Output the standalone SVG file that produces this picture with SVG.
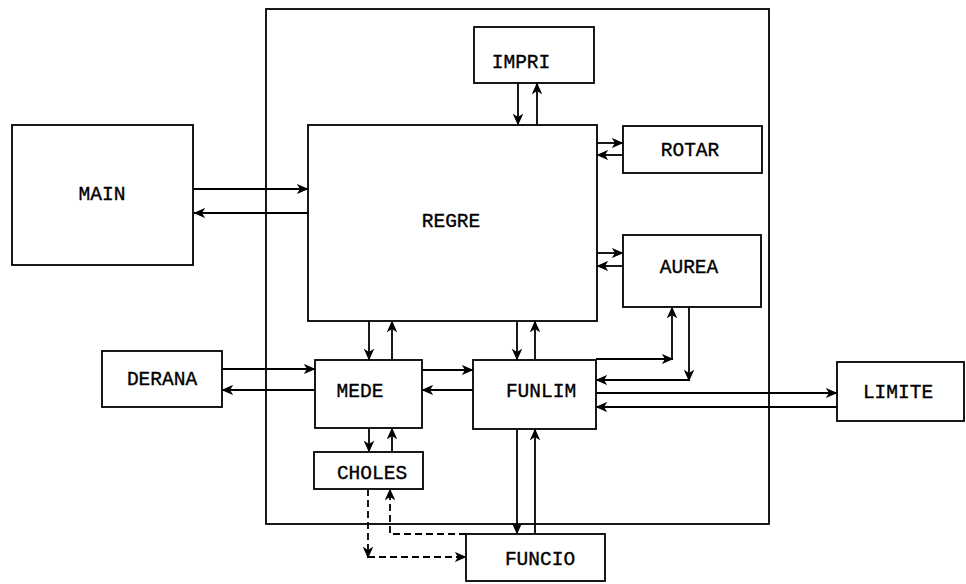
<svg xmlns="http://www.w3.org/2000/svg" width="966" height="584" viewBox="0 0 966 584">
<style>
.b{fill:#fff;stroke:#000;stroke-width:1.8}
.c{fill:none;stroke:#000;stroke-width:1.8}
.d{stroke-dasharray:7,4}
.t{font-family:"Liberation Mono",monospace;font-size:19.5px;fill:#000;stroke:#000;stroke-width:0.35;text-anchor:middle;dominant-baseline:central}
</style>
<defs>
<marker id="a" viewBox="0 0 10 10" refX="9.5" refY="5" markerWidth="12" markerHeight="12" markerUnits="userSpaceOnUse" orient="auto">
<path d="M0,0.6 L10,5 L0,9.4 L2.8,5 z" fill="#000"/>
</marker>
</defs>
<rect x="266" y="9" width="503" height="515" fill="none" stroke="#000" stroke-width="1.8"/>
<g id="main"><rect class="b" x="12" y="125" width="181" height="140"/><text class="t" x="102" y="195">MAIN</text></g>
<g id="regre"><rect class="b" x="308" y="125" width="289" height="196"/><text class="t" x="451" y="222">REGRE</text></g>
<g id="impri"><rect class="b" x="474" y="27" width="120" height="56"/><text class="t" x="521" y="63">IMPRI</text></g>
<g id="rotar"><rect class="b" x="623" y="126" width="139" height="47"/><text class="t" x="690" y="151">ROTAR</text></g>
<g id="aurea"><rect class="b" x="623" y="235" width="138" height="72"/><text class="t" x="689" y="268">AUREA</text></g>
<g id="derana"><rect class="b" x="102" y="351" width="120" height="56"/><text class="t" x="162" y="380">DERANA</text></g>
<g id="mede"><rect class="b" x="315" y="360" width="107" height="68"/><text class="t" x="360" y="392">MEDE</text></g>
<g id="funlim"><rect class="b" x="473" y="360" width="123" height="69"/><text class="t" x="541" y="392">FUNLIM</text></g>
<g id="limite"><rect class="b" x="837" y="362" width="127" height="59"/><text class="t" x="898" y="393">LIMITE</text></g>
<g id="choles"><rect class="b" x="314" y="452" width="109" height="37"/><text class="t" x="372" y="474">CHOLES</text></g>
<g id="funcio"><rect class="b" x="466" y="534" width="139" height="47"/><text class="t" x="540" y="560">FUNCIO</text></g>
<g id="connectors">
<path class="c" d="M194,189 H308" marker-end="url(#a)"/>
<path class="c" d="M308,213 H194" marker-end="url(#a)"/>
<path class="c" d="M518,83 V125" marker-end="url(#a)"/>
<path class="c" d="M537,125 V83" marker-end="url(#a)"/>
<path class="c" d="M597,143 H623" marker-end="url(#a)"/>
<path class="c" d="M623,155 H597" marker-end="url(#a)"/>
<path class="c" d="M597,253 H623" marker-end="url(#a)"/>
<path class="c" d="M623,266 H597" marker-end="url(#a)"/>
<path class="c" d="M596,359 H673" marker-end="url(#a)"/>
<path class="c" d="M672,359 V307" marker-end="url(#a)"/>
<path class="c" d="M689,307 V381" marker-end="url(#a)"/>
<path class="c" d="M689,380 H596" marker-end="url(#a)"/>
<path class="c" d="M596,393 H837" marker-end="url(#a)"/>
<path class="c" d="M837,407 H596" marker-end="url(#a)"/>
<path class="c" d="M369,321 V360" marker-end="url(#a)"/>
<path class="c" d="M392,360 V321" marker-end="url(#a)"/>
<path class="c" d="M517,321 V360" marker-end="url(#a)"/>
<path class="c" d="M535,360 V321" marker-end="url(#a)"/>
<path class="c" d="M222,369 H315" marker-end="url(#a)"/>
<path class="c" d="M315,390 H222" marker-end="url(#a)"/>
<path class="c" d="M422,370 H473" marker-end="url(#a)"/>
<path class="c" d="M473,390 H422" marker-end="url(#a)"/>
<path class="c" d="M369,428 V452" marker-end="url(#a)"/>
<path class="c" d="M392,452 V428" marker-end="url(#a)"/>
<path class="c" d="M517,429 V534" marker-end="url(#a)"/>
<path class="c" d="M535,534 V429" marker-end="url(#a)"/>
<path class="c d" d="M368,489 V558" marker-end="url(#a)"/>
<path class="c d" d="M368,557 H466" marker-end="url(#a)"/>
<path class="c d" d="M466,534 H390 V489" marker-end="url(#a)"/>
</g>
</svg>
